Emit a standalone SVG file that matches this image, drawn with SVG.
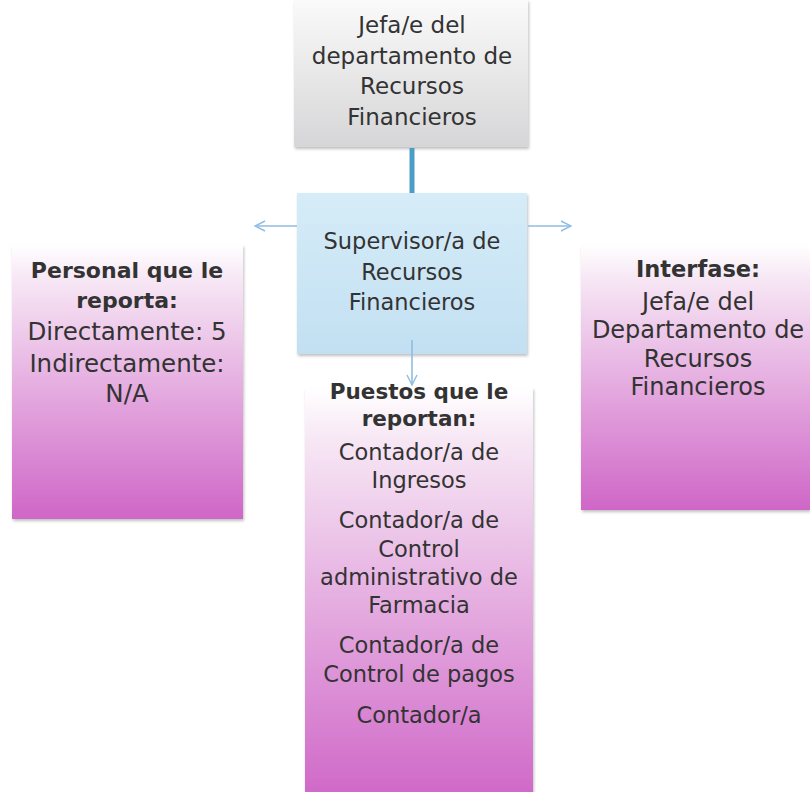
<svg xmlns="http://www.w3.org/2000/svg" width="810" height="792" viewBox="0 0 810 792">
<defs>
<linearGradient id="gGray" x1="0" y1="0" x2="0" y2="1">
<stop offset="0" stop-color="#fafafa"/><stop offset="1" stop-color="#d6d6d8"/>
</linearGradient>
<linearGradient id="gBlue" x1="0" y1="0" x2="0" y2="1">
<stop offset="0" stop-color="#d6ecf8"/><stop offset="1" stop-color="#c2e0f2"/>
</linearGradient>
<linearGradient id="gPink" x1="0" y1="0" x2="0" y2="1">
<stop offset="0" stop-color="#ffffff"/><stop offset="0.12" stop-color="#f7e8f5"/><stop offset="1" stop-color="#cf66c7"/>
</linearGradient>
<filter id="sh" x="-5%" y="-5%" width="112%" height="112%">
<feGaussianBlur in="SourceAlpha" stdDeviation="1.5"/><feOffset dx="1" dy="2"/>
<feComponentTransfer><feFuncA type="linear" slope="0.25"/></feComponentTransfer>
<feMerge><feMergeNode/><feMergeNode in="SourceGraphic"/></feMerge>
</filter>
<marker id="chev" viewBox="0 0 12 12" refX="11" refY="6" markerWidth="12" markerHeight="12" markerUnits="userSpaceOnUse" orient="auto">
<path d="M1,1 L11,6 L1,11" fill="none" stroke="#8fbde3" stroke-width="1.4"/>
</marker>
</defs>
<style>
text{font-family:"DejaVu Sans","Liberation Sans",sans-serif;font-size:23px;fill:#333333;text-anchor:middle}
.m{font-size:22.5px}
.lb{font-size:22px;font-weight:bold}
.lr{font-size:24.5px}
.rb{font-size:22.5px;font-weight:bold}
.rr{font-size:24px}
.pb{font-size:21.5px;font-weight:bold}
.p{font-size:22.5px}
.arr{stroke:#8fbde3;stroke-width:1.6;fill:none;marker-end:url(#chev)}
</style>
<rect width="810" height="792" fill="#ffffff"/>
<g id="jefa">
<rect x="294" y="0" width="234" height="147" fill="url(#gGray)" filter="url(#sh)"/>
<text x="412" y="33">Jefa/e del</text>
<text x="412" y="64">departamento de</text>
<text x="412" y="94">Recursos</text>
<text x="412" y="125">Financieros</text>
</g>
<g id="supervisor">
<rect x="297" y="193" width="230" height="161" fill="url(#gBlue)" filter="url(#sh)"/>
<text x="412" y="249" class="m">Supervisor/a de</text>
<text x="412" y="280" class="m">Recursos</text>
<text x="412" y="310" class="m">Financieros</text>
</g>
<g id="personal">
<rect x="12" y="245" width="231" height="274" fill="url(#gPink)" filter="url(#sh)"/>
<text x="127" y="278" class="lb">Personal que le</text>
<text x="127" y="308" class="lb">reporta:</text>
<text x="127" y="340" class="lr">Directamente: 5</text>
<text x="127" y="372" class="lr">Indirectamente:</text>
<text x="127" y="402" class="lr">N/A</text>
</g>
<g id="interfase">
<rect x="581" y="245" width="229" height="265" fill="url(#gPink)" filter="url(#sh)"/>
<text x="698" y="277" class="rb">Interfase:</text>
<text x="698" y="310" class="rr">Jefa/e del</text>
<text x="698" y="338" class="rr">Departamento de</text>
<text x="698" y="367" class="rr">Recursos</text>
<text x="698" y="395" class="rr">Financieros</text>
</g>
<g id="puestos">
<rect x="305" y="388" width="228" height="414" fill="url(#gPink)" filter="url(#sh)"/>
<text x="419" y="399" class="pb">Puestos que le</text>
<text x="419" y="426" class="pb">reportan:</text>
<text x="419" y="460" class="p">Contador/a de</text>
<text x="419" y="488" class="p">Ingresos</text>
<text x="419" y="528" class="p">Contador/a de</text>
<text x="419" y="557" class="p">Control</text>
<text x="419" y="585" class="p">administrativo de</text>
<text x="419" y="613" class="p">Farmacia</text>
<text x="419" y="653" class="p">Contador/a de</text>
<text x="419" y="682" class="p">Control de pagos</text>
<text x="419" y="723" class="p">Contador/a</text>
</g>
<g id="connectors">
<line x1="412" y1="148" x2="412" y2="193" stroke="#4a9dc4" stroke-width="5"/>
<line class="arr" x1="297" y1="226" x2="255" y2="226"/>
<line class="arr" x1="528" y1="226" x2="571" y2="226"/>
<line class="arr" x1="412" y1="340" x2="412" y2="385"/>
</g>
</svg>
